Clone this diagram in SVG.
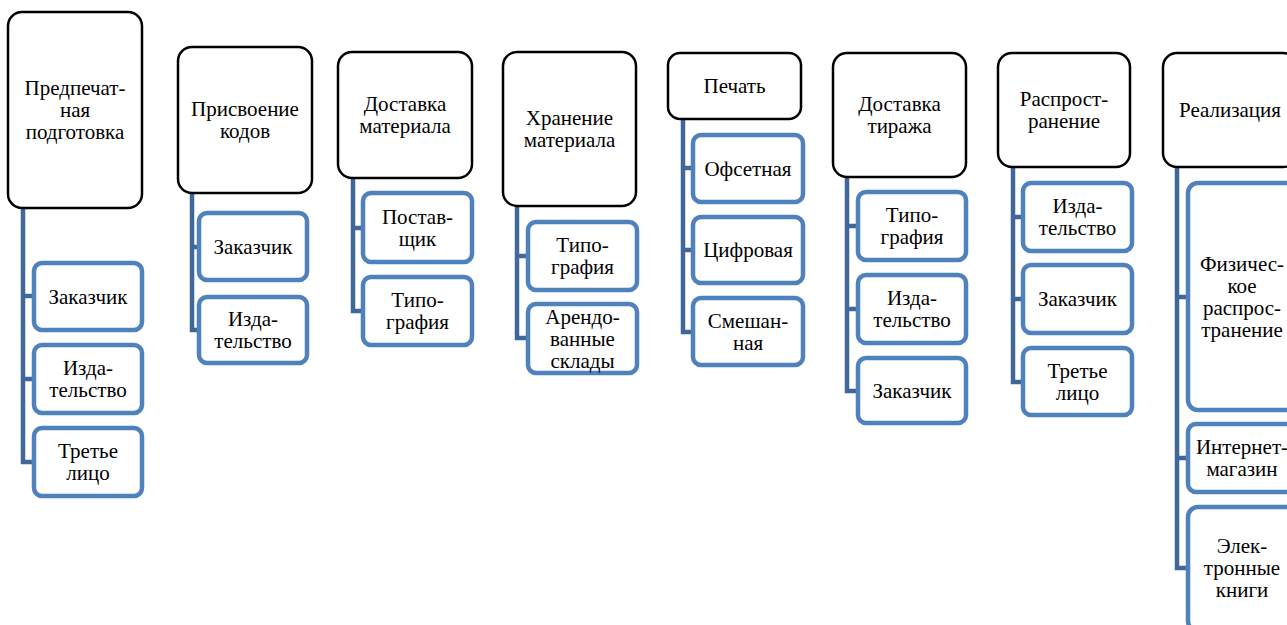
<svg xmlns="http://www.w3.org/2000/svg" width="1287" height="625" viewBox="0 0 1287 625">
  <style>
    .head { fill: #ffffff; stroke: #000000; stroke-width: 2.5; }
    .item { fill: #ffffff; stroke: #4F81BD; stroke-width: 4.5; }
    .link { fill: none; stroke: #40679A; stroke-width: 4.5; stroke-linejoin: miter; stroke-linecap: butt; }
    text { font-family: "Liberation Serif", "DejaVu Serif", serif; font-size: 21px; fill: #000000; text-anchor: middle; }
  </style>
  <rect width="1287" height="625" fill="#ffffff"/>

  <!-- connectors: trunk from each stage box plus a stub into every option -->
  <g id="connectors">
    <path class="link" d="M23,208 V462 H34 M23,296 H34 M23,379 H34"/>
    <path class="link" d="M192,193 V330 H199 M192,247 H199"/>
    <path class="link" d="M353,178 V311 H363 M353,228 H363"/>
    <path class="link" d="M517,206 V338 H528 M517,256 H528"/>
    <path class="link" d="M683,119 V332 H693 M683,168 H693 M683,250 H693"/>
    <path class="link" d="M847,177 V391 H858 M847,226 H858 M847,309 H858"/>
    <path class="link" d="M1013,167 V382 H1023 M1013,217 H1023 M1013,299 H1023"/>
    <path class="link" d="M1177,167 V568 H1188 M1177,297 H1188 M1177,458 H1188"/>
  </g>

  <!-- stage 1 -->
  <g id="prepress">
    <rect class="head" x="8" y="12" width="134" height="196" rx="14"/>
    <text x="75" y="95">Предпечат-</text>
    <text x="75" y="117">ная</text>
    <text x="75" y="139">подготовка</text>
  </g>
  <g id="prepress-customer">
    <rect class="item" x="34" y="263" width="108" height="67" rx="8"/>
    <text x="88" y="303.5">Заказчик</text>
  </g>
  <g id="prepress-publisher">
    <rect class="item" x="34" y="345" width="108" height="68" rx="8"/>
    <text x="88" y="375">Изда-</text>
    <text x="88" y="397">тельство</text>
  </g>
  <g id="prepress-third">
    <rect class="item" x="34" y="428" width="108" height="68" rx="8"/>
    <text x="88" y="458">Третье</text>
    <text x="88" y="480">лицо</text>
  </g>

  <!-- stage 2 -->
  <g id="codes">
    <rect class="head" x="178" y="47" width="134" height="146" rx="14"/>
    <text x="245" y="116">Присвоение</text>
    <text x="245" y="138">кодов</text>
  </g>
  <g id="codes-customer">
    <rect class="item" x="199" y="213" width="108" height="67" rx="8"/>
    <text x="253" y="253.5">Заказчик</text>
  </g>
  <g id="codes-publisher">
    <rect class="item" x="199" y="297" width="108" height="66" rx="8"/>
    <text x="253" y="326">Изда-</text>
    <text x="253" y="348">тельство</text>
  </g>

  <!-- stage 3 -->
  <g id="material-delivery">
    <rect class="head" x="338" y="52" width="134" height="126" rx="14"/>
    <text x="405" y="111">Доставка</text>
    <text x="405" y="133">материала</text>
  </g>
  <g id="material-delivery-supplier">
    <rect class="item" x="363" y="193" width="109" height="69" rx="8"/>
    <text x="417.5" y="223.5">Постав-</text>
    <text x="417.5" y="245.5">щик</text>
  </g>
  <g id="material-delivery-printer">
    <rect class="item" x="363" y="277" width="109" height="68" rx="8"/>
    <text x="417.5" y="307">Типо-</text>
    <text x="417.5" y="329">графия</text>
  </g>

  <!-- stage 4 -->
  <g id="material-storage">
    <rect class="head" x="503" y="52" width="133" height="154" rx="14"/>
    <text x="569.5" y="125">Хранение</text>
    <text x="569.5" y="147">материала</text>
  </g>
  <g id="material-storage-printer">
    <rect class="item" x="528" y="222" width="109" height="68" rx="8"/>
    <text x="582.5" y="252">Типо-</text>
    <text x="582.5" y="274">графия</text>
  </g>
  <g id="material-storage-rented">
    <rect class="item" x="528" y="304" width="109" height="69" rx="8"/>
    <text x="582.5" y="323.5">Арендо-</text>
    <text x="582.5" y="345.5">ванные</text>
    <text x="582.5" y="367.5">склады</text>
  </g>

  <!-- stage 5 -->
  <g id="printing">
    <rect class="head" x="668" y="53" width="133" height="66" rx="12"/>
    <text x="734.5" y="93">Печать</text>
  </g>
  <g id="printing-offset">
    <rect class="item" x="693" y="135" width="110" height="67" rx="8"/>
    <text x="748" y="175.5">Офсетная</text>
  </g>
  <g id="printing-digital">
    <rect class="item" x="693" y="217" width="110" height="66" rx="8"/>
    <text x="748" y="257">Цифровая</text>
  </g>
  <g id="printing-mixed">
    <rect class="item" x="693" y="298" width="110" height="67" rx="8"/>
    <text x="748" y="327.5">Смешан-</text>
    <text x="748" y="349.5">ная</text>
  </g>

  <!-- stage 6 -->
  <g id="run-delivery">
    <rect class="head" x="833" y="53" width="133" height="124" rx="14"/>
    <text x="899.5" y="111">Доставка</text>
    <text x="899.5" y="133">тиража</text>
  </g>
  <g id="run-delivery-printer">
    <rect class="item" x="858" y="192" width="108" height="68" rx="8"/>
    <text x="912" y="222">Типо-</text>
    <text x="912" y="244">графия</text>
  </g>
  <g id="run-delivery-publisher">
    <rect class="item" x="858" y="275" width="108" height="68" rx="8"/>
    <text x="912" y="305">Изда-</text>
    <text x="912" y="327">тельство</text>
  </g>
  <g id="run-delivery-customer">
    <rect class="item" x="858" y="358" width="108" height="65" rx="8"/>
    <text x="912" y="397.5">Заказчик</text>
  </g>

  <!-- stage 7 -->
  <g id="distribution">
    <rect class="head" x="998" y="53" width="132" height="114" rx="14"/>
    <text x="1064" y="106">Распрост-</text>
    <text x="1064" y="128">ранение</text>
  </g>
  <g id="distribution-publisher">
    <rect class="item" x="1023" y="183" width="109" height="68" rx="8"/>
    <text x="1077.5" y="213">Изда-</text>
    <text x="1077.5" y="235">тельство</text>
  </g>
  <g id="distribution-customer">
    <rect class="item" x="1023" y="265" width="109" height="68" rx="8"/>
    <text x="1077.5" y="306">Заказчик</text>
  </g>
  <g id="distribution-third">
    <rect class="item" x="1023" y="348" width="109" height="67" rx="8"/>
    <text x="1077.5" y="377.5">Третье</text>
    <text x="1077.5" y="399.5">лицо</text>
  </g>

  <!-- stage 8 -->
  <g id="sales">
    <rect class="head" x="1163" y="53" width="134" height="114" rx="14"/>
    <text x="1230" y="117">Реализация</text>
  </g>
  <g id="sales-physical">
    <rect class="item" x="1188" y="183" width="108" height="227" rx="10"/>
    <text x="1242" y="270.5">Физичес-</text>
    <text x="1242" y="292.5">кое</text>
    <text x="1242" y="314.5">распрос-</text>
    <text x="1242" y="336.5">транение</text>
  </g>
  <g id="sales-online">
    <rect class="item" x="1188" y="424" width="108" height="68" rx="8"/>
    <text x="1242" y="454">Интернет-</text>
    <text x="1242" y="476">магазин</text>
  </g>
  <g id="sales-ebooks">
    <rect class="item" x="1188" y="507" width="108" height="124" rx="10"/>
    <text x="1242" y="553">Элек-</text>
    <text x="1242" y="575">тронные</text>
    <text x="1242" y="597">книги</text>
  </g>
</svg>
